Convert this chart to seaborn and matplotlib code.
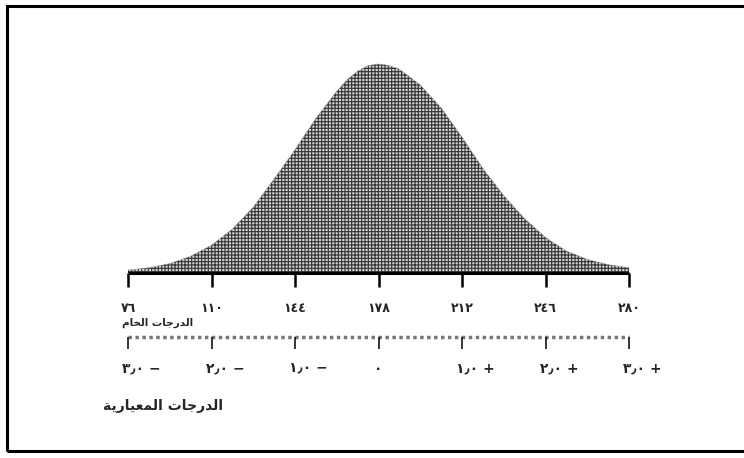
import matplotlib
matplotlib.use("Agg")
import matplotlib.pyplot as plt
import matplotlib.patches as mpatches
import pandas as pd
import seaborn as sns

# raw scores (mean 178, sd 34) and the matching standard scores
raw_ticks = [76, 110, 144, 178, 212, 246, 280]
raw_labels = ["٧٦", "١١٠", "١٤٤", "١٧٨", "٢١٢", "٢٤٦", "٢٨٠"]
std_labels = ["٣٫٠ −", "٢٫٠ −", "١٫٠ −", "٠", "١٫٠ +", "٢٫٠ +", "٣٫٠ +"]

# curve height (peak = 1)
curve_x = [76, 84.5, 93, 101.5, 110, 118.5, 127, 135.5, 144, 152.5, 161, 165.25, 169.5, 173.75,
           178, 182.25, 186.5, 195, 203.5, 212, 220.5, 229, 237.5, 246, 254.5, 263, 271.5, 280]
curve_y = [0.014, 0.025, 0.045, 0.08, 0.133, 0.21, 0.315, 0.45, 0.59, 0.74, 0.87, 0.925, 0.966, 0.992,
           1.0, 0.993, 0.975, 0.9, 0.79, 0.65, 0.5, 0.37, 0.26, 0.17, 0.105, 0.065, 0.04, 0.025]

# Arabic titles, written in visual order with presentation forms
raw_title = "\uFEE1\uFE8E\uFEA8\uFEDF\uFE8D \uFE95\uFE8E\uFE9F\uFEAD\uFEAA\uFEDF\uFE8D"  # الدرجات الخام
std_title = ("\uFE94\uFEF3\uFEAD\uFE8E\uFEF4\uFECC\uFEE4\uFEDF\uFE8D "
             "\uFE95\uFE8E\uFE9F\uFEAD\uFEAA\uFEDF\uFE8D")  # الدرجات المعيارية

sns.set_style("white")
plt.rcParams['font.family'] = ['DejaVu Sans']
plt.rcParams['hatch.linewidth'] = 0.8
plt.rcParams['hatch.color'] = '#333333'

df = pd.DataFrame({"score": curve_x, "height": curve_y})

fig = plt.figure(figsize=(7.44, 4.58), dpi=100)
ax = fig.add_axes([0, 0, 1, 1])

ax.fill_between(df["score"], df["height"], 0, facecolor='#d2d2d2',
                hatch='+++++', edgecolor='#333333', linewidth=0)
sns.lineplot(data=df, x="score", y="height", ax=ax, color='#999999', linewidth=0.4)

# raw score axis
ax.hlines(0, raw_ticks[0], raw_ticks[-1], color='black', linewidth=2.2)
ax.vlines(raw_ticks, -0.067, 0, color='black', linewidth=1.8)
for x, lab in zip(raw_ticks, raw_labels):
    ax.text(x, -0.172, lab, ha='center', va='center', fontsize=9, fontweight='bold')
ax.text(73.6, -0.239, raw_title, ha='left', va='center', fontsize=7.5, fontweight='bold')

# standard score scale
ax.hlines(-0.306, raw_ticks[0], raw_ticks[-1], color='#777777', linewidth=2.5,
          linestyles=(0, (1, 1)))
ax.vlines(raw_ticks, -0.364, -0.306, color='black', linewidth=1.1)
for x, lab in zip(raw_ticks, std_labels):
    if lab == "٠":
        ax.text(x, -0.459, lab, ha='center', va='center', fontsize=10, fontweight='bold')
    else:
        ax.text(x - 2.4, -0.459, lab, ha='left', va='center', fontsize=10, fontweight='bold')
ax.text(65.8, -0.636, std_title, ha='left', va='center', fontsize=10, fontweight='bold')

ax.set_xlim(23.88, 326.8)
ax.set_ylim(-0.885, 1.306)
ax.set_axis_off()

# page frame, its right edge falls outside the scan
fig.add_artist(mpatches.Rectangle((7 / 744, 7 / 458), 745 / 744, 445 / 458,
                                  transform=fig.transFigure, fill=False,
                                  edgecolor='black', linewidth=2.2))

fig.savefig("out.png", dpi=100)
